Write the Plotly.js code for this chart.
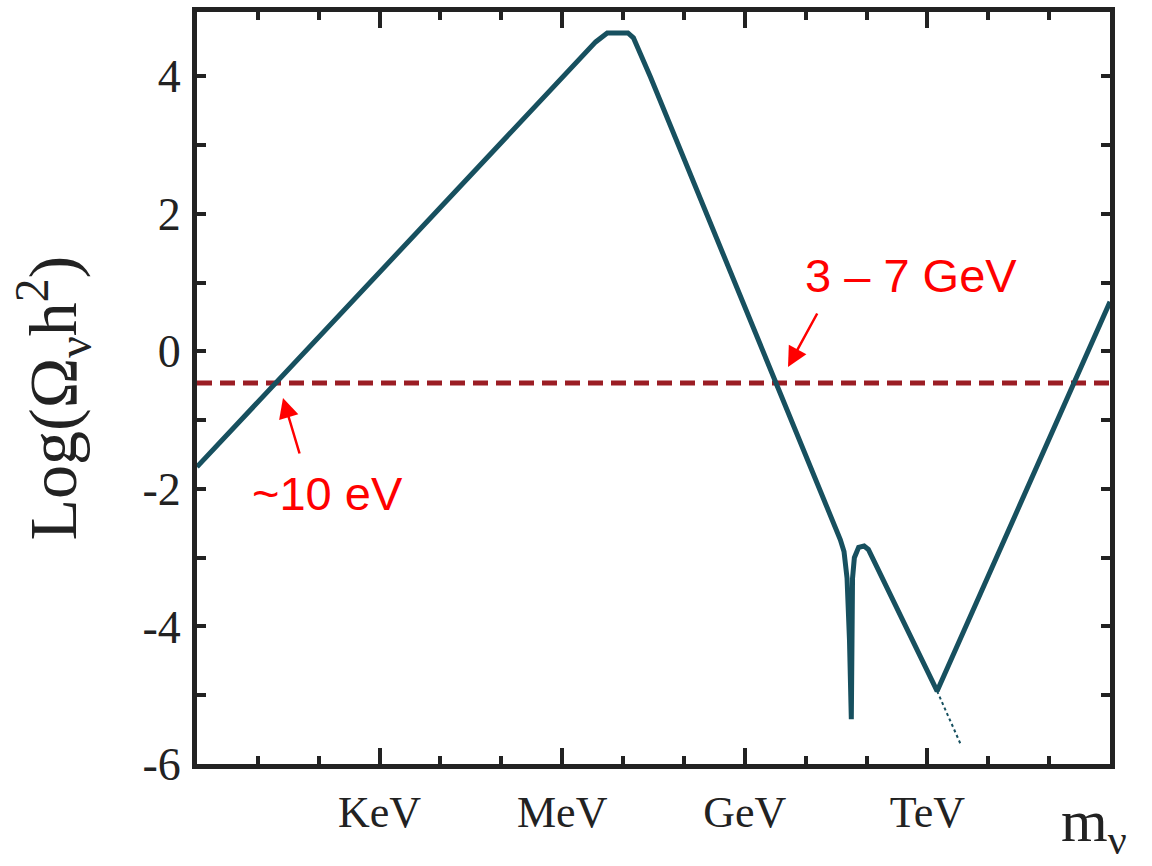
<!DOCTYPE html>
<html>
<head>
<meta charset="utf-8">
<script src="https://cdn.plot.ly/plotly-3.0.1.min.js"></script>
<style>html,body{margin:0;padding:0;background:#fff;}#chart{width:1152px;height:866px;}</style>
</head>
<body>
<div id="chart"></div>
<script>
// log10(m / eV) and log10(Omega h^2)
const massLog  = [0, 5.64, 6.55, 6.74, 7.08, 7.17, 7.30, 7.45, 10.57, 10.63, 10.68, 10.72, 10.75, 10.77, 10.80, 10.87, 10.96, 11.03, 12.16, 15];
const omegaLog = [-1.68, 3.65, 4.50, 4.63, 4.63, 4.56, 4.30, 3.99, -2.74, -2.91, -3.30, -4.20, -5.35, -3.30, -3.00, -2.85, -2.83, -2.88, -4.94, 0.72];
// dotted continuation below the TeV minimum
const extMassLog  = [12.16, 12.55];
const extOmegaLog = [-4.94, -5.72];
// observed relic density level
const levelLog = -0.46;
const levelX = [0, 15];
// axis ticks
const xTickVals = [3, 6, 9, 12];
const xTickText = ['KeV', 'MeV', 'GeV', 'TeV'];
const xMinorVals = [1, 2, 4, 5, 7, 8, 10, 11, 13, 14];
const yTickVals = [-6, -4, -2, 0, 2, 4];
const yTickText = ['-6', '-4', '-2', '0', '2', '4'];
const yMinorVals = [-5, -3, -1, 1, 3];
// callouts
const calloutText = ['3 – 7 GeV', '~10 eV'];
const calloutPos = [[11.73, 1.11], [2.14, -2.06]];
const arrowTip = [[9.71, -0.227], [1.413, -0.678]];
const arrowTail = [[30, -55], [17, 57]];

const curveColor = '#17505f';
const serif = 'Liberation Serif, Times New Roman, serif';

const traces = [
  {x: levelX, y: [levelLog, levelLog], mode: 'lines', line: {color: '#9b1d24', width: 5, dash: '15px,8px'}, hoverinfo: 'skip'},
  {x: extMassLog, y: extOmegaLog, mode: 'lines', line: {color: curveColor, width: 2, dash: 'dot'}, hoverinfo: 'skip'},
  {x: massLog, y: omegaLog, mode: 'lines', line: {color: curveColor, width: 5}}
];

const annotations = [];
for (let i = 0; i < calloutText.length; i++) {
  annotations.push({x: calloutPos[i][0], y: calloutPos[i][1], xref: 'x', yref: 'y', text: calloutText[i], showarrow: false,
    font: {family: 'Liberation Sans, Arial, sans-serif', size: 47, color: '#ff0000'}, xanchor: 'center', yanchor: 'middle'});
  annotations.push({x: arrowTip[i][0], y: arrowTip[i][1], xref: 'x', yref: 'y', ax: arrowTail[i][0], ay: arrowTail[i][1], text: '',
    showarrow: true, arrowhead: 2, arrowsize: 1.6, arrowwidth: 2.5, arrowcolor: '#ff0000'});
}
annotations.push({xref: 'paper', yref: 'paper', x: -0.157, y: 0.487, text: 'Log(Ω<sub>ν</sub>h<sup>2</sup>)', textangle: -90,
  showarrow: false, font: {family: serif, size: 68, color: '#222'}, xanchor: 'center', yanchor: 'middle'});
annotations.push({xref: 'paper', yref: 'paper', x: 0.982, y: -0.082, text: 'm<sub>ν</sub>',
  showarrow: false, font: {family: serif, size: 60, color: '#222'}, xanchor: 'center', yanchor: 'middle'});

const layout = {
  width: 1152, height: 866,
  margin: {l: 197, r: 42, t: 12, b: 102},
  paper_bgcolor: '#fff', plot_bgcolor: '#fff',
  showlegend: false,
  xaxis: {range: [0, 15], showgrid: false, zeroline: false, showline: true, linecolor: '#222', linewidth: 5, mirror: 'ticks',
    ticks: 'inside', ticklen: 16, tickwidth: 4, tickcolor: '#222', tickvals: xTickVals, ticktext: xTickText,
    tickfont: {family: serif, size: 44, color: '#222'}, ticklabelstandoff: 5,
    minor: {tickvals: xMinorVals, ticks: 'inside', ticklen: 8, tickwidth: 4, tickcolor: '#222', showgrid: false}},
  yaxis: {range: [-6, 4.935], showgrid: false, zeroline: false, showline: true, linecolor: '#222', linewidth: 5, mirror: 'ticks',
    ticks: 'inside', ticklen: 9, tickwidth: 4, tickcolor: '#222', tickvals: yTickVals, ticktext: yTickText,
    tickfont: {family: serif, size: 46, color: '#222'}, ticklabelstandoff: 2,
    minor: {tickvals: yMinorVals, ticks: 'inside', ticklen: 9, tickwidth: 4, tickcolor: '#222', showgrid: false}},
  annotations: annotations
};

Plotly.newPlot('chart', traces, layout, {staticPlot: true, displayModeBar: false});
</script>
</body>
</html>
